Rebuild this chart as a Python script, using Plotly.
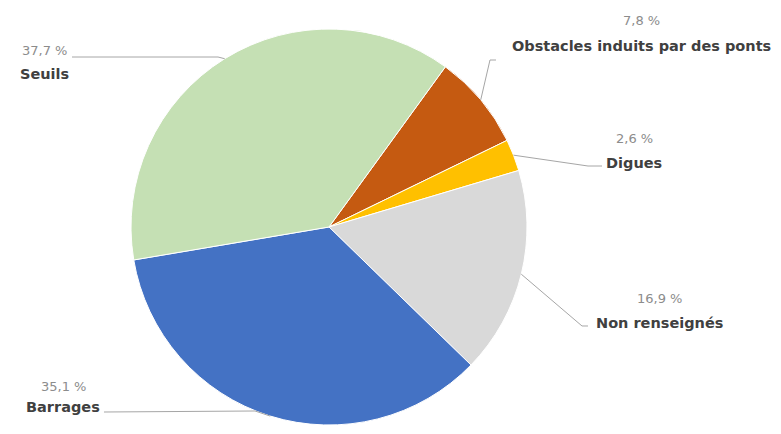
import math
import plotly.graph_objects as go

# ---- data ----
categories = ["Obstacles induits par des ponts", "Digues", "Non renseignés", "Barrages", "Seuils"]
values = [7.8, 2.6, 16.9, 35.1, 37.7]
percent_labels = ["7,8 %", "2,6 %", "16,9 %", "35,1 %", "37,7 %"]
colors = ["#C55A11", "#FFC000", "#D9D9D9", "#4472C4", "#C5E0B4"]

# ---- layout constants (pixels) ----
W, H = 781, 434
ROT = 36  # start angle of first slice, degrees clockwise from 12 o'clock
pie_left, pie_right, pie_top, pie_bottom = 131, 527, 29, 425
cx = (pie_left + pie_right) / 2
cy = (pie_top + pie_bottom) / 2
R = (pie_bottom - pie_top) / 2

# label block centres (pct line y, name line y, x centre) and leader bend points
label_pos = {
    "Obstacles induits par des ponts": dict(x=641, y1=21, y2=46, bend=[(490, 60), (496, 60)]),
    "Digues": dict(x=634, y1=138, y2=163, bend=[(588, 166), (602, 166)]),
    "Non renseignés": dict(x=659, y1=298, y2=323, bend=[(582, 326), (588, 326)]),
    "Barrages": dict(x=63, y1=386, y2=407, bend=[(255, 411), (104, 412)]),
    "Seuils": dict(x=44, y1=51, y2=74, bend=[(218, 57), (72, 57)]),
}


def px(x):
    return x / W


def py(y):
    return 1 - y / H


fig = go.Figure(
    go.Pie(
        labels=categories,
        values=values,
        sort=False,
        direction="clockwise",
        rotation=ROT,
        marker=dict(colors=colors, line=dict(color="white", width=1)),
        textinfo="none",
        hoverinfo="label+percent",
        domain=dict(x=[px(pie_left), px(pie_right)], y=[py(pie_bottom), py(pie_top)]),
        showlegend=False,
    )
)

total = sum(values)
cum = 0.0
shapes = []
annotations = []
for cat, v, pct in zip(categories, values, percent_labels):
    mid = math.radians(ROT + 360 * (cum + v / 2) / total)
    cum += v
    ex = cx + R * math.sin(mid)
    ey = cy - R * math.cos(mid)
    lp = label_pos[cat]
    pts = [(ex, ey)] + lp["bend"]
    path = "M " + " L ".join(f"{px(a):.5f},{py(b):.5f}" for a, b in pts)
    shapes.append(dict(type="path", xref="paper", yref="paper", path=path,
                       line=dict(color="#A6A6A6", width=1)))
    annotations.append(dict(x=px(lp["x"]), y=py(lp["y1"]), xref="paper", yref="paper",
                            text=pct, showarrow=False, xanchor="center", yanchor="middle",
                            font=dict(family="DejaVu Sans", size=13, color="#8C8C8C")))
    annotations.append(dict(x=px(lp["x"]), y=py(lp["y2"]), xref="paper", yref="paper",
                            text=f"<b>{cat}</b>", showarrow=False, xanchor="center", yanchor="middle",
                            font=dict(family="DejaVu Sans", size=14.5, color="#404040")))

fig.update_layout(
    width=W, height=H,
    margin=dict(l=0, r=0, t=0, b=0),
    paper_bgcolor="white", plot_bgcolor="white",
    shapes=shapes, annotations=annotations,
)

fig.write_html("out.html", config={"displayModeBar": False},
               post_script="document.body.style.margin='0';document.body.style.overflow='hidden';")
